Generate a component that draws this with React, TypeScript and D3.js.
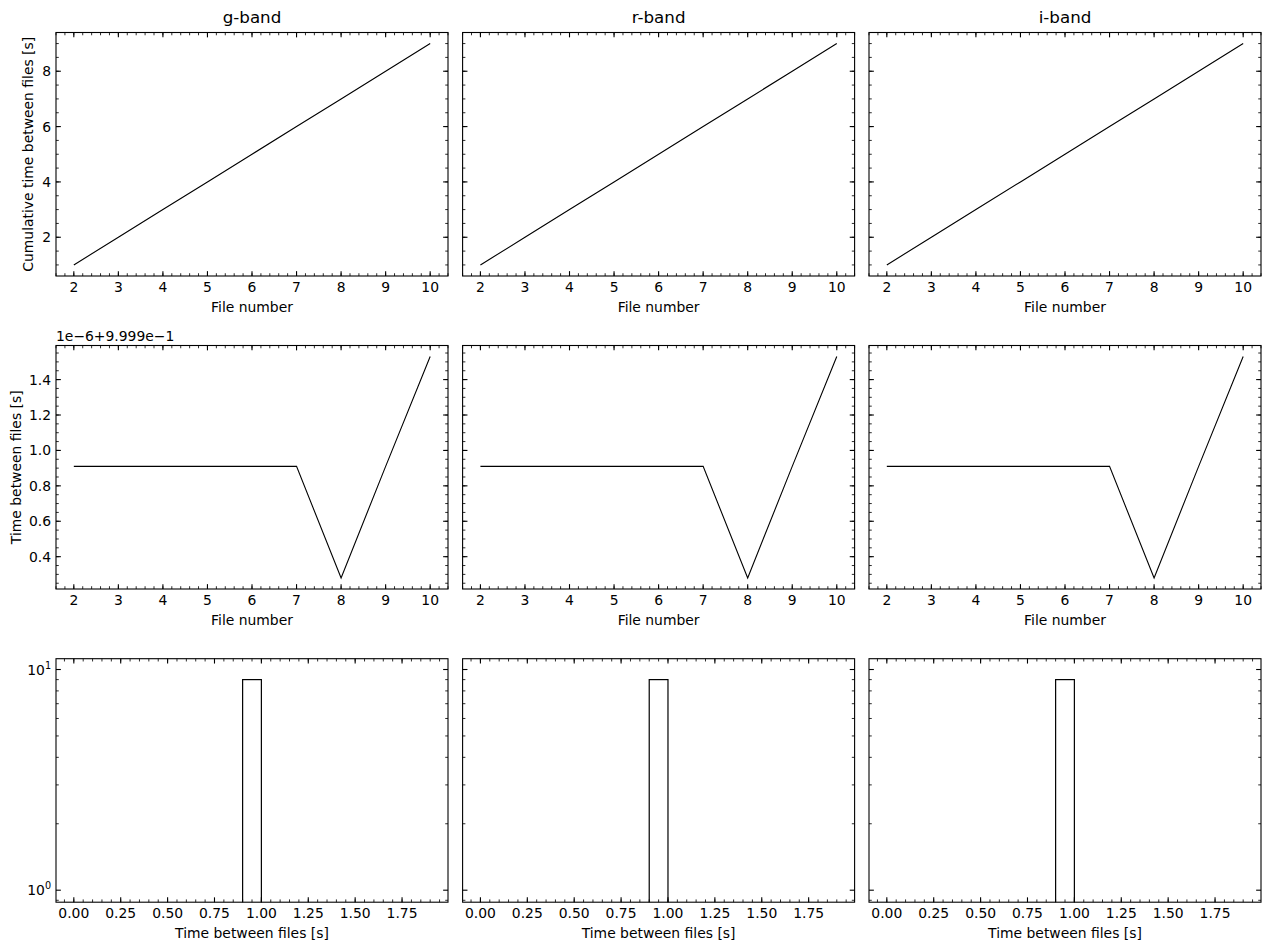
import React from "react";
import * as d3 from "d3";

const bands = ["g-band", "r-band", "i-band"];
const fileNumbers = [2, 3, 4, 5, 6, 7, 8, 9, 10];
const cumulativeTime = [1, 2, 3, 4, 5, 6, 7, 8, 9];
// time between files, in units of 1e-6 above 9.999e-1
const timeBetweenOffset = [0.91, 0.91, 0.91, 0.91, 0.91, 0.91, 0.28, 0.91, 1.53];
const histValues = [0.99999991, 0.99999991, 0.99999991, 0.99999991, 0.99999991, 0.99999991, 0.99999928, 0.99999991, 0.99999953];
const histThresholds = [0, 0.1, 0.2, 0.3, 0.4, 0.5, 0.6, 0.7, 0.8, 0.9, 1.0, 1.1, 1.2, 1.3, 1.4, 1.5, 1.6, 1.7, 1.8, 1.9];
const fileTicks = [2, 3, 4, 5, 6, 7, 8, 9, 10];
const cumTicks = [2, 4, 6, 8];
const diffTicks = [0.4, 0.6, 0.8, 1.0, 1.2, 1.4];
const histXTicks = [0, 0.25, 0.5, 0.75, 1.0, 1.25, 1.5, 1.75];
const logTicks = [1, 10];

const W = 1269, H = 950;
const colLeft = [56, 462.6, 869];
const axW = 392;
const rowTop = [32.5, 345.5, 658.7];
const axH = 243.5;
const FONT = "DejaVu Sans, sans-serif";
const FS = 13.9;
const MAJ = 4.86, MIN = 2.78;

function range(a: number, b: number, step: number) {
  const out: number[] = [];
  const n = Math.round((b - a) / step);
  for (let i = 0; i <= n; i++) out.push(+(a + i * step).toFixed(6));
  return out;
}

type AxProps = {
  x0: number; y0: number;
  xs: any; ys: any;
  xMajor: number[]; xMinor: number[];
  yMajor: number[]; yMinor: number[];
  xFmt: (v: number) => any; yFmt: ((v: number) => any) | null;
  children?: any;
  clipId: string;
};

function Axes({ x0, y0, xs, ys, xMajor, xMinor, yMajor, yMinor, xFmt, yFmt, children, clipId }: AxProps) {
  const inX = (v: number) => { const p = xs(v); return p >= -0.5 && p <= axW + 0.5; };
  const inY = (v: number) => { const p = ys(v); return p >= -0.5 && p <= axH + 0.5; };
  return (
    <g transform={`translate(${x0},${y0})`}>
      <defs>
        <clipPath id={clipId}><rect x={0} y={0} width={axW} height={axH} /></clipPath>
      </defs>
      <g clipPath={`url(#${clipId})`}>{children}</g>
      {xMinor.filter(inX).map((v, i) => (
        <g key={"xm" + i} stroke="#000" strokeWidth={0.83}>
          <line x1={xs(v)} x2={xs(v)} y1={axH} y2={axH - MIN} />
          <line x1={xs(v)} x2={xs(v)} y1={0} y2={MIN} />
        </g>
      ))}
      {xMajor.filter(inX).map((v, i) => (
        <g key={"xM" + i}>
          <line x1={xs(v)} x2={xs(v)} y1={axH} y2={axH - MAJ} stroke="#000" strokeWidth={1.1} />
          <line x1={xs(v)} x2={xs(v)} y1={0} y2={MAJ} stroke="#000" strokeWidth={1.1} />
          <text x={xs(v)} y={axH + 15.8} textAnchor="middle" fontSize={FS} fontFamily={FONT} fill="#000">{xFmt(v)}</text>
        </g>
      ))}
      {yMinor.filter(inY).map((v, i) => (
        <g key={"ym" + i} stroke="#000" strokeWidth={0.83}>
          <line x1={0} x2={MIN} y1={ys(v)} y2={ys(v)} />
          <line x1={axW} x2={axW - MIN} y1={ys(v)} y2={ys(v)} />
        </g>
      ))}
      {yMajor.filter(inY).map((v, i) => (
        <g key={"yM" + i}>
          <line x1={0} x2={MAJ} y1={ys(v)} y2={ys(v)} stroke="#000" strokeWidth={1.1} />
          <line x1={axW} x2={axW - MAJ} y1={ys(v)} y2={ys(v)} stroke="#000" strokeWidth={1.1} />
          {yFmt ? (
            <text x={-4.9} y={ys(v) + 5} textAnchor="end" fontSize={FS} fontFamily={FONT} fill="#000">{yFmt(v)}</text>
          ) : null}
        </g>
      ))}
      <rect x={0} y={0} width={axW} height={axH} fill="none" stroke="#000" strokeWidth={1.1} />
    </g>
  );
}

export default function App() {
  const fileX = d3.scaleLinear().domain([1.6, 10.4]).range([0, axW]);
  const cumY = d3.scaleLinear().domain([0.6, 9.4]).range([axH, 0]);
  const dmin = d3.min(timeBetweenOffset)!, dmax = d3.max(timeBetweenOffset)!;
  const dm = (dmax - dmin) * 0.05;
  const diffY = d3.scaleLinear().domain([dmin - dm, dmax + dm]).range([axH, 0]);
  const histX = d3.scaleLinear().domain([-0.095, 1.995]).range([0, axW]);
  const histY = d3.scaleLog().domain([Math.pow(10, -0.0544), Math.pow(10, 1.049)]).range([axH, 0]);

  const bins = d3.bin().domain([0, 1.9]).thresholds(histThresholds.slice(1, -1))(histValues);

  const cumLine = d3.line<number>().x((_, i) => fileX(fileNumbers[i])).y((d) => cumY(d));
  const diffLine = d3.line<number>().x((_, i) => fileX(fileNumbers[i])).y((d) => diffY(d));

  const logMinor = [2, 3, 4, 5, 6, 7, 8, 9, 20, 30, 0.9, 0.8];

  return (
    <svg width={W} height={H} style={{ position: "absolute", left: 0, top: 0, background: "#fff" }} xmlns="http://www.w3.org/2000/svg">
      <rect x={0} y={0} width={W} height={H} fill="#fff" />
      {bands.map((band, c) => {
        const x0 = colLeft[c];
        return (
          <g key={band}>
            <text x={x0 + axW / 2} y={23} textAnchor="middle" fontSize={16.7} fontFamily={FONT} fill="#000">{band}</text>
            {/* Row 1 */}
            <Axes clipId={`c1${c}`} x0={x0} y0={rowTop[0]} xs={fileX} ys={cumY}
              xMajor={fileTicks} xMinor={range(1.6, 10.4, 0.2)}
              yMajor={cumTicks} yMinor={range(0.5, 9.5, 0.5)}
              xFmt={(v) => String(v)} yFmt={c === 0 ? (v) => String(v) : null}>
              <path d={cumLine(cumulativeTime) || ""} fill="none" stroke="#000" strokeWidth={1.1} />
            </Axes>
            <text x={x0 + axW / 2} y={rowTop[0] + axH + 35.5} textAnchor="middle" fontSize={FS} fontFamily={FONT}>File number</text>
            {/* Row 2 */}
            <Axes clipId={`c2${c}`} x0={x0} y0={rowTop[1]} xs={fileX} ys={diffY}
              xMajor={fileTicks} xMinor={range(1.6, 10.4, 0.2)}
              yMajor={diffTicks} yMinor={range(0.2, 1.6, 0.05)}
              xFmt={(v) => String(v)} yFmt={c === 0 ? (v) => v.toFixed(1) : null}>
              <path d={diffLine(timeBetweenOffset) || ""} fill="none" stroke="#000" strokeWidth={1.1} />
            </Axes>
            <text x={x0 + axW / 2} y={rowTop[1] + axH + 35.5} textAnchor="middle" fontSize={FS} fontFamily={FONT}>File number</text>
            {c === 0 ? (
              <text x={x0} y={rowTop[1] - 4.5} textAnchor="start" fontSize={FS} fontFamily={FONT}>1e−6+9.999e−1</text>
            ) : null}
            {/* Row 3 */}
            <Axes clipId={`c3${c}`} x0={x0} y0={rowTop[2]} xs={histX} ys={histY}
              xMajor={histXTicks} xMinor={range(-0.05, 2.0, 0.05)}
              yMajor={logTicks} yMinor={logMinor}
              xFmt={(v) => v.toFixed(2)}
              yFmt={c === 0 ? (v) => (
                <>
                  <tspan>10</tspan>
                  <tspan dy={-6} fontSize={9.7}>{String(Math.round(Math.log10(v)))}</tspan>
                </>
              ) : null}>
              {bins.filter((b) => b.length > 0).map((b, i) => (
                <rect key={i} x={histX(b.x0!)} width={histX(b.x1!) - histX(b.x0!)}
                  y={histY(b.length)} height={axH + 5 - histY(b.length)}
                  fill="none" stroke="#000" strokeWidth={1.2} />
              ))}
            </Axes>
            <text x={x0 + axW / 2} y={rowTop[2] + axH + 35.5} textAnchor="middle" fontSize={FS} fontFamily={FONT}>Time between files [s]</text>
          </g>
        );
      })}
      <text transform={`translate(32.5,${rowTop[0] + axH / 2}) rotate(-90)`} textAnchor="middle" fontSize={FS} fontFamily={FONT}>Cumulative time between files [s]</text>
      <text transform={`translate(20.5,${rowTop[1] + axH / 2}) rotate(-90)`} textAnchor="middle" fontSize={FS} fontFamily={FONT}>Time between files [s]</text>
    </svg>
  );
}
